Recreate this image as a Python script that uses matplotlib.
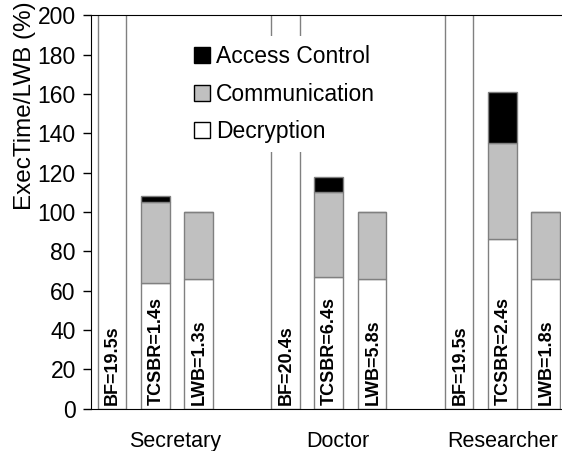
import numpy as np
import matplotlib
matplotlib.use('Agg')
import matplotlib.pyplot as plt
from matplotlib.patches import Patch

plt.rcParams['font.family'] = ['Liberation Sans', 'DejaVu Sans']

groups = ['Secretary', 'Doctor', 'Researcher']
schemes = ['BF', 'TCSBR', 'LWB']

# times in seconds (bar labels)
bf_time = [19.5, 20.4, 19.5]
tcsbr_time = [1.4, 6.4, 2.4]
lwb_time = [1.3, 5.8, 1.8]

# stacked parts, % of LWB time
tcsbr_decrypt = [64, 67, 86]
tcsbr_comm = [41, 43, 49]
tcsbr_access = [3, 8, 26]
lwb_decrypt = [66, 66, 66]
lwb_comm = [34, 34, 34]
lwb_access = [0, 0, 0]
# BF is far off the scale
bf_pct = [1500, 352, 1083]

fig = plt.figure(figsize=(5.62, 4.51), dpi=100)
ax = fig.add_axes([0.162, 0.094, 0.836, 0.872])

width = 0.66
edge = '#808080'
base = np.arange(len(groups)) * 4
x_bf = base
x_tc = base + 1
x_lwb = base + 2

ax.bar(x_bf, bf_pct, width, color='white', edgecolor=edge, lw=1)
for xs, dec, com, acc in [(x_tc, tcsbr_decrypt, tcsbr_comm, tcsbr_access),
                          (x_lwb, lwb_decrypt, lwb_comm, lwb_access)]:
    dec = np.array(dec); com = np.array(com); acc = np.array(acc)
    ax.bar(xs, dec, width, color='white', edgecolor=edge, lw=1)
    ax.bar(xs, com, width, bottom=dec, color='#c0c0c0', edgecolor=edge, lw=1)
    ax.bar(xs, acc, width, bottom=dec + com, color='black', edgecolor=edge, lw=1)

for i in range(len(groups)):
    for xs, name, t in [(x_bf, 'BF', bf_time), (x_tc, 'TCSBR', tcsbr_time),
                        (x_lwb, 'LWB', lwb_time)]:
        ax.text(xs[i] + 0.02, 2, f'{name}={t[i]}s', rotation=90, ha='center',
                va='bottom', fontsize=13, fontweight='bold')

ax.set_ylim(0, 200)
ax.set_xlim(-0.48, 10.35)
ax.set_yticks(range(0, 201, 20))
ax.tick_params(axis='y', labelsize=16.5, direction='out', length=6, width=1, pad=5)
ax.set_xticks([1.45, 5.2, 9.0])
ax.set_xticklabels(groups, fontsize=15.5)
ax.tick_params(axis='x', length=0, pad=16)
ax.set_ylabel('ExecTime/LWB (%)', fontsize=17.5, loc='top')
ax.yaxis.set_label_coords(-0.117, 1.035)
ax.spines['right'].set_visible(False)

handles = [Patch(facecolor='black', edgecolor='black'),
           Patch(facecolor='#c0c0c0', edgecolor='black'),
           Patch(facecolor='white', edgecolor='black')]
leg = ax.legend(handles, ['Access Control', 'Communication', 'Decryption'],
                loc='upper left', bbox_to_anchor=(0.175, 0.976), fontsize=16.5,
                handlelength=0.7, handleheight=0.7, handletextpad=0.25,
                labelspacing=0.62, frameon=True, fancybox=False,
                borderpad=0.4)
leg.get_frame().set_edgecolor('none')
leg.get_frame().set_facecolor('white')
leg.get_frame().set_alpha(1)

fig.savefig('out.png', dpi=100)
